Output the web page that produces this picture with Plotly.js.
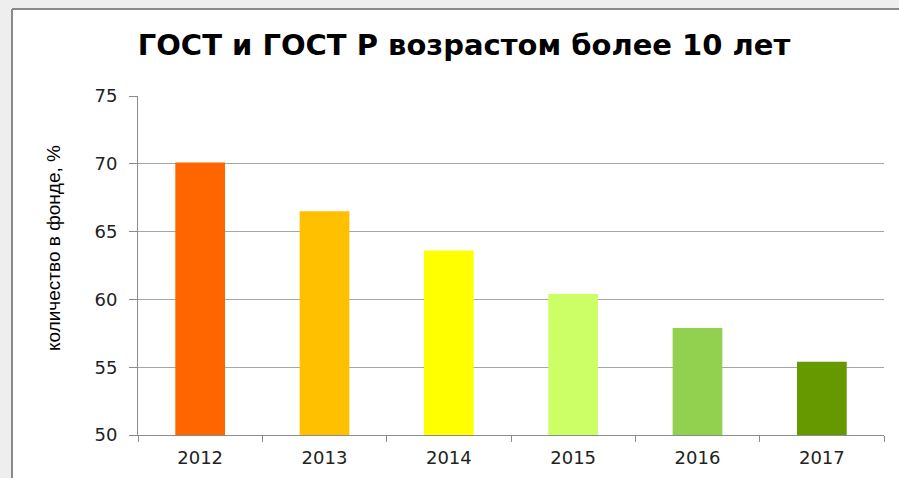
<!DOCTYPE html>
<html>
<head>
<meta charset="utf-8">
<script src="https://cdn.plot.ly/plotly-3.0.1.min.js"></script>
<style>html,body{margin:0;padding:0;background:#ffffff;overflow:hidden;width:899px;height:478px;}#chart{width:899px;height:478px;}</style>
</head>
<body>
<div id="chart"></div>
<script>
const years = ["2012", "2013", "2014", "2015", "2016", "2017"];
const shares = [70.1, 66.5, 63.6, 60.4, 57.9, 55.4];
const barColors = ["#FF6600", "#FFC000", "#FFFF00", "#CCFF66", "#92D050", "#669900"];
const yTicks = [50, 55, 60, 65, 70, 75];

const trace = {
  type: "bar",
  x: years,
  y: shares,
  width: 0.4,
  marker: {color: barColors, line: {width: 0}},
  hoverinfo: "x+y"
};

const L = 138, R = 884, T = 96, B = 435, W = 899, H = 478;
const pw = R - L, ph = B - T;
function px(x){return (x - L)/pw;}
function py(y){return (B - y)/ph;}

const layout = {
  width: W, height: H,
  margin: {l: L, r: W - R, t: T, b: H - B, pad: 0},
  paper_bgcolor: "#ffffff",
  plot_bgcolor: "#ffffff",
  showlegend: false,
  bargap: 0.6,
  title: {
    text: "<b>ГОСТ и ГОСТ Р возрастом более 10 лет</b>",
    font: {family: "DejaVu Sans, Verdana, sans-serif", size: 29, color: "#000000"},
    x: 464/W, xanchor: "center", y: 1 - 45/H, yanchor: "middle"
  },
  xaxis: {
    type: "category",
    tickson: "boundaries",
    ticks: "outside", ticklen: 6, tickcolor: "#8c8c8c", tickwidth: 1,
    showline: true, linecolor: "#8c8c8c", linewidth: 1,
    showgrid: false,
    tickfont: {family: "DejaVu Sans, Verdana, sans-serif", size: 18, color: "#222222"},
    ticklabelstandoff: 6,
    range: [-0.5, 5.5]
  },
  yaxis: {
    range: [50, 75],
    tickvals: yTicks,
    ticktext: yTicks.map(String),
    ticks: "outside", ticklen: 8, tickcolor: "#8c8c8c", tickwidth: 1,
    showline: true, linecolor: "#8c8c8c", linewidth: 1,
    showgrid: true, gridcolor: "#a6a6a6", gridwidth: 1,
    zeroline: false,
    tickfont: {family: "DejaVu Sans, Verdana, sans-serif", size: 18, color: "#222222"},
    ticklabelstandoff: 8
  },
  annotations: [{
    text: "количество в фонде, %",
    textangle: -90,
    xref: "paper", yref: "paper",
    x: px(53), y: py(248), xanchor: "center", yanchor: "middle",
    showarrow: false,
    font: {family: "Liberation Sans Narrow, Arial Narrow, Liberation Sans, sans-serif", size: 19, color: "#000000"}
  }],
  shapes: [
    {
      type: "rect", layer: "below", xref: "paper", yref: "paper",
      x0: px(0), x1: px(11), y0: py(478), y1: py(0),
      fillcolor: "#eeeeee", line: {width: 0}
    },
    {
      type: "rect", layer: "below", xref: "paper", yref: "paper",
      x0: px(0), x1: px(899), y0: py(8), y1: py(0),
      fillcolor: "#eeeeee", line: {width: 0}
    },
    {
      type: "line", layer: "below", xref: "paper", yref: "paper",
      x0: px(12), x1: px(899), y0: py(9), y1: py(9),
      line: {color: "#8a8a8a", width: 2}
    },
    {
      type: "line", layer: "below", xref: "paper", yref: "paper",
      x0: px(12), x1: px(12), y0: py(9), y1: py(478),
      line: {color: "#8a8a8a", width: 2}
    }
  ]
};

Plotly.newPlot("chart", [trace], layout, {displayModeBar: false, responsive: false, staticPlot: true});
</script>
</body>
</html>
